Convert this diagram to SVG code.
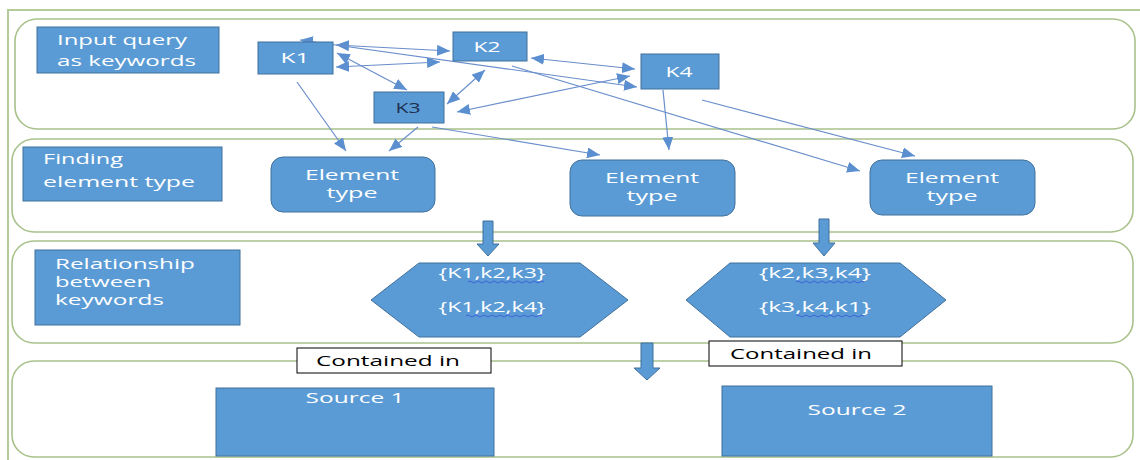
<svg xmlns="http://www.w3.org/2000/svg" width="1140" height="460" viewBox="0 0 1140 460">
<style>
.band{fill:none;stroke:#a9c18b;stroke-width:1.6}
.frame{fill:none;stroke:#b5cc98;stroke-width:2}
.box{fill:#5b9bd5;stroke:#41719c;stroke-width:1}
.lbl{font-family:"Open Sans","Liberation Sans",sans-serif;font-size:15px;fill:#ffffff}
.kt{font-family:"Open Sans","Liberation Sans",sans-serif;font-size:14px;fill:#ffffff;text-anchor:middle}
.ct{font-family:"Open Sans","Liberation Sans",sans-serif;font-size:15px;fill:#ffffff;text-anchor:middle}
.blk{font-family:"Open Sans","Liberation Sans",sans-serif;font-size:15px;fill:#000000;text-anchor:middle}
.wbox{fill:#ffffff;stroke:#000000;stroke-width:1}
.conn{fill:none;stroke:#6a8ecb;stroke-width:1.2}
.sq{fill:none;stroke:#3b5bd9;stroke-width:0.9}
</style>
<defs>
<marker id="ah" markerUnits="userSpaceOnUse" markerWidth="13" markerHeight="11" viewBox="0 0 13 11" refX="13" refY="5.5" orient="auto-start-reverse">
<path d="M0,0 L13,5.5 L0,11 z" fill="#5b8fd0"/>
</marker>
</defs>
<rect width="1140" height="460" fill="#ffffff"/>
<g id="frame">
<rect class="frame" x="8" y="10" width="1150" height="470"/>
<rect class="band" x="15" y="19" width="1120" height="110" rx="22"/>
<rect class="band" x="12" y="139" width="1121" height="93" rx="22"/>
<rect class="band" x="12" y="241" width="1121" height="102" rx="22"/>
<rect class="band" x="12" y="361" width="1121" height="96" rx="22"/>
</g>
<g id="connectors">
<line class="conn" x1="336" y1="45" x2="450" y2="51" marker-start="url(#ah)" marker-end="url(#ah)"/>
<line class="conn" x1="337" y1="53" x2="407" y2="90" marker-start="url(#ah)" marker-end="url(#ah)"/>
<line class="conn" x1="336" y1="67" x2="440" y2="62" marker-start="url(#ah)" marker-end="url(#ah)"/>
<line class="conn" x1="300" y1="40" x2="637" y2="87" marker-start="url(#ah)" marker-end="url(#ah)"/>
<line class="conn" x1="485" y1="70" x2="447" y2="104" marker-start="url(#ah)" marker-end="url(#ah)"/>
<line class="conn" x1="457" y1="112" x2="630" y2="76" marker-start="url(#ah)" marker-end="url(#ah)"/>
<line class="conn" x1="531" y1="58" x2="635" y2="69" marker-start="url(#ah)" marker-end="url(#ah)"/>
<line class="conn" x1="297" y1="82" x2="346" y2="151" marker-end="url(#ah)"/>
<line class="conn" x1="418" y1="127" x2="389" y2="151" marker-end="url(#ah)"/>
<line class="conn" x1="432" y1="127" x2="600" y2="155" marker-end="url(#ah)"/>
<line class="conn" x1="663" y1="90" x2="669" y2="150" marker-end="url(#ah)"/>
<line class="conn" x1="512" y1="66" x2="860" y2="171" marker-end="url(#ah)"/>
<line class="conn" x1="702" y1="100" x2="915" y2="156" marker-end="url(#ah)"/>
<path class="box" d="M483,221 H493 V244 H499 L488,256 L477,244 H483 Z"/>
<path class="box" d="M819,219 H829 V243 H835 L824,256 L813,243 H819 Z"/>
<path class="box" d="M641,343 H653 V368 H660 L647,380 L634,368 H641 Z"/>
</g>
<g id="label-input">
<rect class="box" x="37" y="27" width="182" height="46"/>
<text class="lbl" x="57" y="45" textLength="130" lengthAdjust="spacingAndGlyphs">Input query</text>
<text class="lbl" x="57" y="66" textLength="139" lengthAdjust="spacingAndGlyphs">as keywords</text>
</g>
<g id="k1">
<rect class="box" x="258" y="42" width="75" height="32"/>
<text class="kt" x="295" y="63" textLength="29" lengthAdjust="spacingAndGlyphs">K1</text>
</g>
<g id="k2">
<rect class="box" x="453" y="32" width="74" height="29"/>
<text class="kt" x="487" y="52" textLength="27" lengthAdjust="spacingAndGlyphs">K2</text>
</g>
<g id="k4">
<rect class="box" x="641" y="54" width="78" height="35"/>
<text class="kt" x="679" y="77" textLength="27" lengthAdjust="spacingAndGlyphs">K4</text>
</g>
<g id="k3">
<rect class="box" x="374" y="92" width="70" height="31"/>
<text class="kt" x="408" y="113" textLength="25" lengthAdjust="spacingAndGlyphs" style="fill:#1f2f4f">K3</text>
</g>
<g id="label-finding">
<rect class="box" x="23" y="147" width="199" height="54"/>
<text class="lbl" x="43" y="164" textLength="80" lengthAdjust="spacingAndGlyphs">Finding</text>
<text class="lbl" x="43" y="187" textLength="152" lengthAdjust="spacingAndGlyphs">element type</text>
</g>
<g id="element1">
<rect class="box" x="271" y="157" width="164" height="55" rx="12"/>
<text class="ct" x="352" y="180" textLength="94" lengthAdjust="spacingAndGlyphs">Element</text>
<text class="ct" x="352" y="198" textLength="51" lengthAdjust="spacingAndGlyphs">type</text>
</g>
<g id="element2">
<rect class="box" x="570" y="160" width="165" height="56" rx="12"/>
<text class="ct" x="652" y="183" textLength="94" lengthAdjust="spacingAndGlyphs">Element</text>
<text class="ct" x="652" y="201" textLength="51" lengthAdjust="spacingAndGlyphs">type</text>
</g>
<g id="element3">
<rect class="box" x="870" y="160" width="165" height="55" rx="12"/>
<text class="ct" x="952" y="183" textLength="94" lengthAdjust="spacingAndGlyphs">Element</text>
<text class="ct" x="952" y="201" textLength="51" lengthAdjust="spacingAndGlyphs">type</text>
</g>
<g id="label-relationship">
<rect class="box" x="35" y="250" width="205" height="75"/>
<text class="lbl" x="55" y="269" textLength="140" lengthAdjust="spacingAndGlyphs">Relationship</text>
<text class="lbl" x="55" y="287" textLength="96" lengthAdjust="spacingAndGlyphs">between</text>
<text class="lbl" x="55" y="305" textLength="109" lengthAdjust="spacingAndGlyphs">keywords</text>
</g>
<g id="hex1">
<polygon class="box" points="371,300 419,263 580,263 628,300 580,337 419,337"/>
<text class="ct" x="492" y="278" textLength="107" lengthAdjust="spacingAndGlyphs">{K1,k2,k3}</text>
<text class="ct" x="492" y="312" textLength="107" lengthAdjust="spacingAndGlyphs">{K1,k2,k4}</text>
<path class="sq" d="M468,282 q2,-2 4,0 t4,0 t4,0 t4,0 t4,0 t4,0 t4,0 t4,0 t4,0 t4,0 t4,0 t4,0 t4,0 t4,0 t4,0 t4,0 t4,0 t4,0 t4,0"/>
<path class="sq" d="M466,316 q2,-2 4,0 t4,0 t4,0 t4,0 t4,0 t4,0 t4,0 t4,0 t4,0 t4,0 t4,0 t4,0 t4,0 t4,0 t4,0 t4,0 t4,0 t4,0 t4,0"/>
</g>
<g id="hex2">
<polygon class="box" points="686,300 730,263 900,263 946,300 900,337 730,337"/>
<text class="ct" x="815" y="278" textLength="112" lengthAdjust="spacingAndGlyphs">{k2,k3,k4}</text>
<text class="ct" x="815" y="312" textLength="112" lengthAdjust="spacingAndGlyphs">{k3,k4,k1}</text>
<path class="sq" d="M796,282 q2,-2 4,0 t4,0 t4,0 t4,0 t4,0 t4,0 t4,0 t4,0 t4,0 t4,0 t4,0 t4,0 t4,0 t4,0 t4,0 t4,0 t4,0"/>
<path class="sq" d="M796,316 q2,-2 4,0 t4,0 t4,0 t4,0 t4,0 t4,0 t4,0 t4,0 t4,0 t4,0 t4,0 t4,0 t4,0 t4,0 t4,0 t4,0 t4,0"/>
</g>
<g id="contained1">
<rect class="wbox" x="297" y="348" width="194" height="25"/>
<text class="blk" x="388" y="366" textLength="144" lengthAdjust="spacingAndGlyphs">Contained in</text>
</g>
<g id="contained2">
<rect class="wbox" x="709" y="341" width="193" height="25"/>
<text class="blk" x="801" y="359" textLength="142" lengthAdjust="spacingAndGlyphs">Contained in</text>
</g>
<g id="source1">
<rect class="box" x="216" y="388" width="278" height="68"/>
<text class="ct" x="355" y="403" textLength="99" lengthAdjust="spacingAndGlyphs">Source 1</text>
</g>
<g id="source2">
<rect class="box" x="722" y="386" width="270" height="70"/>
<text class="ct" x="857" y="415" textLength="99" lengthAdjust="spacingAndGlyphs">Source 2</text>
</g>
</svg>
